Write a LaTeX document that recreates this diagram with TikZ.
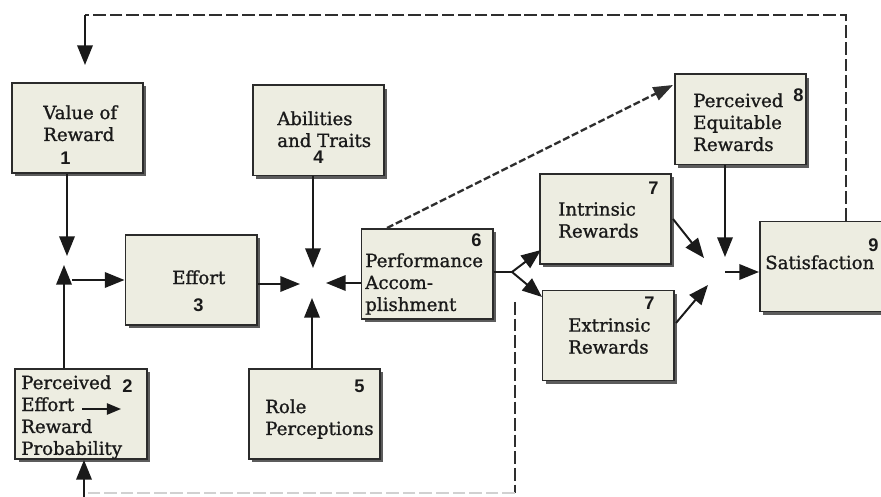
\documentclass[tikz,border=0pt]{standalone}
\usepackage{fontspec}
\setmainfont{DejaVu Serif}
\newfontfamily\boxfont{DejaVu Serif}[FakeBold=1.1]
\newfontfamily\numfont{Liberation Sans Bold}
\usetikzlibrary{arrows.meta,positioning,calc,shadows}
\definecolor{boxfill}{HTML}{EDEDE1}
\definecolor{boxline}{HTML}{2B2B2B}
\definecolor{boxshadow}{HTML}{5C5C5C}
\definecolor{ink}{HTML}{1A1A1A}
\definecolor{inkgray}{HTML}{2E2E2E}
\tikzset{
  factor/.style={draw=boxline,fill=boxfill,line width=1.4pt,
                 minimum width=3.275cm,minimum height=2.25cm,inner sep=0pt,
                 drop shadow={shadow xshift=2.2pt,shadow yshift=-2.2pt,
                              fill=boxshadow,opacity=1}},
  words/.style={anchor=north west,align=left,inner sep=0pt,text=ink,
                font=\boxfont\fontsize{12.9}{15.6}\selectfont},
  num/.style={anchor=base west,inner sep=0pt,text=ink,
              font=\numfont\fontsize{13}{14}\selectfont},
  flow/.style={-{Triangle[length=14pt,width=11pt]},line width=1.4pt,draw=ink},
  smallflow/.style={-{Triangle[length=10pt,width=8pt]},line width=1.2pt,draw=ink},
  backline/.style={line width=1.5pt,draw=inkgray,dash pattern=on 9pt off 2.8pt},
  cue/.style={-{Triangle[length=14pt,width=10pt]},line width=1.7pt,draw=inkgray,
              dash pattern=on 5pt off 2pt}
}
\begin{document}
\begin{tikzpicture}[x=0.025cm,y=-0.025cm]
  \useasboundingbox (0,0) rectangle (881,497);
  \clip (0,0) rectangle (881,497);
  % boxes
  \node[factor] (value)   at (77.5,128)   {};
  \node[factor] (expect)  at (81,414)     {};
  \node[factor] (effort)  at (191,280)    {};
  \node[factor] (ability) at (318.5,130.5) {};
  \node[factor] (role)    at (314.5,414)  {};
  \node[factor] (perform) at (427,274)    {};
  \node[factor] (intrin)  at (605.5,219)  {};
  \node[factor] (extrin)  at (608,335.5)  {};
  \node[factor] (equit)   at (740.5,119.5) {};
  \node[factor] (satisf)  at (825.5,266.5) {};
  % box texts
  \node[words] (valuetext)   at (43,105)  {Value of\\Reward};
  \node[num]   (valuenum)    at (60,165)  {1};
  \node[words] (expecttext)  at (21,375)  {Perceived\\Effort\\Reward\\Probability};
  \node[num]   (expectnum)   at (122,393) {2};
  \node[words] (efforttext)  at (172,270) {Effort};
  \node[num]   (effortnum)   at (193,312) {3};
  \node[words] (abilitytext) at (277,111) {Abilities\\and Traits};
  \node[num]   (abilitynum)  at (313,164) {4};
  \node[words] (roletext)    at (265,399) {Role\\Perceptions};
  \node[num]   (rolenum)     at (354,393) {5};
  \node[words] (performtext) at (365,253) {Performance\\Accom-\\plishment};
  \node[num]   (performnum)  at (471,247) {6};
  \node[words] (intrintext)  at (558,202) {Intrinsic\\Rewards};
  \node[num]   (intrinnum)   at (648,195) {7};
  \node[words] (extrintext)  at (568,318) {Extrinsic\\Rewards};
  \node[num]   (extrinnum)   at (644,310) {7};
  \node[words] (equittext)   at (693,93)  {Perceived\\Equitable\\Rewards};
  \node[num]   (equitnum)    at (793,102) {8};
  \node[words] (satisftext)  at (765,255) {Satisfaction};
  \node[num]   (satisfnum)   at (868,252) {9};
  % arrow glyph in box 2
  \coordinate (glyphs) at (82,409);
  \coordinate (glyphe) at (121,409);
  \draw[smallflow] (glyphs) -- (glyphe);
  % meeting points
  \coordinate (j1n) at (67,256);
  \coordinate (j1s) at (64,265);
  \coordinate (j1o) at (72,280);
  \coordinate (j2w) at (300,284);
  \coordinate (j2n) at (313,268);
  \coordinate (j2s) at (312,298);
  \coordinate (j2e) at (326,283);
  \coordinate (fork) at (512,272);
  \coordinate (r7a) at (541,250);
  \coordinate (r7b) at (542,297);
  \coordinate (s7a) at (673,219);
  \coordinate (s7b) at (676,323);
  \coordinate (j3a) at (704,258);
  \coordinate (j3b) at (708,285);
  \coordinate (j3n) at (725,257);
  \coordinate (j3o) at (725,272);
  % solid arrows
  \draw[flow] (value.south -| j1n) -- (j1n);
  \draw[flow] (expect.north -| j1s) -- (j1s);
  \draw[flow] (j1o) -- (effort.west |- j1o);
  \draw[flow] (effort.east |- j2w) -- (j2w);
  \draw[flow] (ability.south -| j2n) -- (j2n);
  \draw[flow] (role.north -| j2s) -- (j2s);
  \draw[flow] (perform.west |- j2e) -- (j2e);
  \draw[line width=1.4pt,draw=ink] (perform.east |- fork) -- (fork);
  \draw[flow] (fork) -- (r7a);
  \draw[flow] (fork) -- (r7b);
  \draw[flow] (s7a) -- (j3a);
  \draw[flow] (s7b) -- (j3b);
  \draw[flow] (equit.south -| j3n) -- (j3n);
  \draw[flow] (j3o) -- (satisf.west |- j3o);
  % dashed links
  \coordinate (cuestart) at (387,228);
  \coordinate (cueend) at (673,85);
  \draw[cue] (cuestart) -- (cueend);
  \coordinate (topright) at (846,15);
  \coordinate (topleft) at (85,15);
  \coordinate (topend) at (85,65);
  \draw[backline] (satisf.north -| topright) -- (topright) -- (topleft);
  \draw[flow] (topleft) -- (topend);
  \coordinate (lowtop) at (515,302);
  \coordinate (lowcorner) at (515,493);
  \coordinate (lowleft) at (84,493);
  \coordinate (lowend) at (84,497);
  \draw[backline] (lowtop) -- (lowcorner);
  \draw[backline,draw=black!18] (lowcorner) -- (lowleft);
  \draw[flow] (lowend) -- (expect.south -| lowend);
\end{tikzpicture}
\end{document}
